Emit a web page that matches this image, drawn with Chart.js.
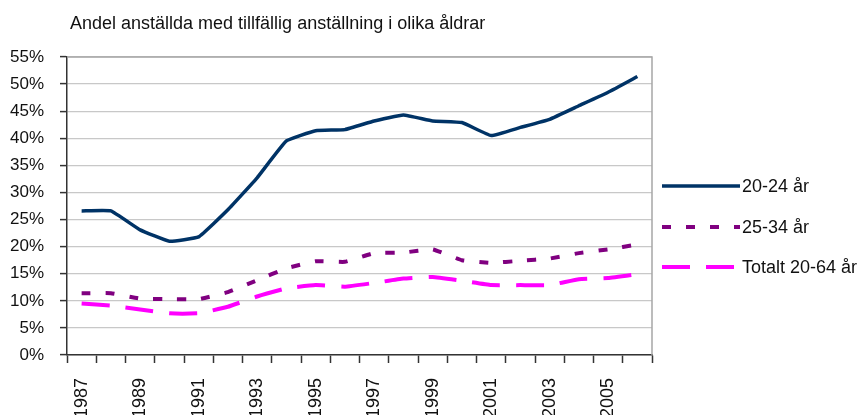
<!DOCTYPE html>
<html>
<head>
<meta charset="utf-8">
<script src="https://cdn.jsdelivr.net/npm/chart.js@4/dist/chart.umd.min.js"></script>
<style>
  body { margin: 0; background: #fff; }
</style>
</head>
<body>
<canvas id="diagram" width="860" height="415"></canvas>
<script>
// data (andel i procent)
const years = ['1987','1988','1989','1990','1991','1992','1993','1994','1995','1996',
               '1997','1998','1999','2000','2001','2002','2003','2004','2005','2006']
const age2024 = [26.6,26.6,23.1,21.0,21.8,26.8,32.7,39.5,41.4,41.6,43.2,44.3,43.2,42.9,40.5,42.0,43.5,46.0,48.5,51.4]
const age2534 = [11.4,11.4,10.4,10.3,10.3,11.6,13.8,16.0,17.3,17.2,18.8,18.9,19.5,17.5,17.0,17.4,17.8,18.8,19.5,20.4]
const total2064 = [9.5,9.1,8.4,7.7,7.7,8.9,10.8,12.3,12.9,12.6,13.3,14.1,14.4,13.7,12.9,12.9,12.9,14.0,14.2,14.9]
const seriesNames = ['20-24 år', '25-34 år', 'Totalt 20-64 år']
const chartTitle = 'Andel anställda med tillfällig anställning i olika åldrar'

const FONT = "'Liberation Sans', Arial, sans-serif"
const axisColor = '#333333'

// titel + egen legend + ram runt plottytan
const extras = {
  id: 'extras',
  beforeDatasetsDraw(chart) {
    const { ctx, chartArea: a } = chart
    ctx.save()
    ctx.strokeStyle = '#a6a6a6'
    ctx.lineWidth = 1.5
    ctx.beginPath()
    ctx.moveTo(a.left, a.top)
    ctx.lineTo(a.right, a.top)
    ctx.lineTo(a.right, a.bottom)
    ctx.stroke()
    ctx.restore()
  },
  afterDraw(chart) {
    const { ctx } = chart
    ctx.save()
    ctx.fillStyle = '#111'
    ctx.font = '18px ' + FONT
    ctx.textBaseline = 'middle'
    ctx.textAlign = 'left'
    ctx.fillText(chartTitle, 70, 24)

    // legend
    const rows = [186, 227, 267]
    chart.data.datasets.forEach((ds, i) => {
      const y = rows[i]
      ctx.strokeStyle = ds.borderColor
      ctx.lineWidth = ds.borderWidth
      ctx.setLineDash(ds.borderDash || [])
      ctx.beginPath()
      ctx.moveTo(662, y)
      ctx.lineTo(740, y)
      ctx.stroke()
      ctx.setLineDash([])
      ctx.fillStyle = '#111'
      ctx.fillText(ds.label, 742, y + 1)
    })
    ctx.restore()
  }
}

new Chart(document.getElementById('diagram'), {
  type: 'line',
  data: {
    labels: years,
    datasets: [
      { label: seriesNames[0], data: age2024, borderColor: '#003366', borderWidth: 3.5, borderDash: [] },
      { label: seriesNames[1], data: age2534, borderColor: '#800080', borderWidth: 4, borderDash: [9, 15] },
      { label: seriesNames[2], data: total2064, borderColor: '#ff00ff', borderWidth: 4, borderDash: [28, 16] }
    ]
  },
  options: {
    responsive: false,
    animation: false,
    layout: { padding: { top: 57, right: 208, left: 0, bottom: 0 } },
    elements: {
      point: { radius: 0 },
      line: { tension: 0.1, fill: false, borderCapStyle: 'butt' }
    },
    plugins: {
      legend: { display: false },
      title: { display: false },
      tooltip: { enabled: false }
    },
    scales: {
      x: {
        type: 'category',
        offset: true,
        grid: { offset: true, drawOnChartArea: false, tickLength: 8, tickColor: axisColor, tickWidth: 1.5 },
        border: { color: axisColor, width: 1.5 },
        ticks: {
          autoSkip: false,
          minRotation: 90,
          maxRotation: 90,
          padding: 15,
          color: '#111',
          font: { family: FONT, size: 18 },
          callback: function(v, i) { return i % 2 === 0 ? years[i] : '' }
        },
        afterFit: s => { s.height = 60 }
      },
      y: {
        min: 0,
        max: 55,
        grid: { color: '#c8c8c8', lineWidth: 1.2, tickLength: 7, tickColor: axisColor, tickWidth: 1.5 },
        border: { color: axisColor, width: 1.5 },
        ticks: {
          stepSize: 5,
          padding: 16,
          color: '#111',
          font: { family: FONT, size: 17 },
          callback: v => v + '%'
        },
        afterFit: s => { s.width = 67 }
      }
    }
  },
  plugins: [extras]
})
</script>
</body>
</html>
